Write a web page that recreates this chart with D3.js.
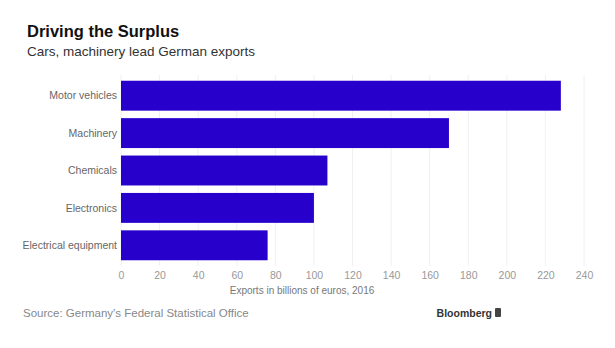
<!DOCTYPE html>
<html>
<head>
<meta charset="utf-8">
<script src="https://cdn.jsdelivr.net/npm/d3@7"></script>
<style>
  body { margin: 0; background: #fff; }
  text { font-family: "Liberation Sans", Arial, sans-serif; }
</style>
</head>
<body>
<div id="chart"></div>
<script>
const categories = ['Motor vehicles', 'Machinery', 'Chemicals', 'Electronics', 'Electrical equipment'];
const exportsBn = [228, 170, 107, 100, 76];
const xTicks = [0, 20, 40, 60, 80, 100, 120, 140, 160, 180, 200, 220, 240];

const width = 615, height = 348;

const svg = d3.select('#chart').append('svg')
    .attr('width', width)
    .attr('height', height);

const x = d3.scaleLinear().domain([0, 240]).range([121, 584]);
const y = d3.scaleBand().domain(categories).range([77, 264])
    .paddingInner(0.2).paddingOuter(0.1);

// titles
svg.append('text')
    .attr('x', 27).attr('y', 37)
    .style('font-size', '16.5px')
    .style('font-weight', 'bold')
    .attr('fill', '#111')
    .text('Driving the Surplus');

svg.append('text')
    .attr('x', 27).attr('y', 56)
    .style('font-size', '13.5px')
    .attr('fill', '#333')
    .text('Cars, machinery lead German exports');

// faint gridlines
svg.append('g').selectAll('line')
    .data(xTicks)
    .join('line')
    .attr('x1', d => x(d)).attr('x2', d => x(d))
    .attr('y1', 75).attr('y2', 266)
    .attr('stroke', '#f0f0f0')
    .attr('stroke-width', 1);

// bars
svg.append('g').selectAll('rect')
    .data(categories)
    .join('rect')
    .attr('x', x(0))
    .attr('y', d => y(d))
    .attr('width', (d, i) => x(exportsBn[i]) - x(0))
    .attr('height', y.bandwidth())
    .attr('fill', '#2800cc');

// category labels
svg.append('g').selectAll('text')
    .data(categories)
    .join('text')
    .attr('x', 117)
    .attr('y', d => y(d) + y.bandwidth() / 2)
    .attr('dy', '0.35em')
    .attr('text-anchor', 'end')
    .style('font-size', '10.5px')
    .attr('fill', '#666')
    .text(d => d);

// x axis
const xAxis = svg.append('g')
    .attr('transform', 'translate(0,272)')
    .call(d3.axisBottom(x).tickValues(xTicks).tickSize(0).tickPadding(0));
xAxis.select('.domain').remove();
xAxis.selectAll('text')
    .attr('dy', '0.71em')
    .style('font-size', '10.5px')
    .style('font-family', '"Liberation Sans", Arial, sans-serif')
    .attr('fill', '#999');

svg.append('text')
    .attr('x', 302).attr('y', 294)
    .attr('text-anchor', 'middle')
    .style('font-size', '10px')
    .attr('fill', '#777')
    .text('Exports in billions of euros, 2016');

// footer
svg.append('text')
    .attr('x', 23).attr('y', 317)
    .style('font-size', '11.5px')
    .attr('fill', '#888')
    .text("Source: Germany's Federal Statistical Office");

svg.append('text')
    .attr('x', 492).attr('y', 317)
    .attr('text-anchor', 'end')
    .style('font-size', '10.5px')
    .style('font-weight', 'bold')
    .attr('fill', '#333')
    .text('Bloomberg');

svg.append('rect')
    .attr('x', 495).attr('y', 308)
    .attr('width', 6).attr('height', 9)
    .attr('rx', 1)
    .attr('fill', '#444');
</script>
</body>
</html>
